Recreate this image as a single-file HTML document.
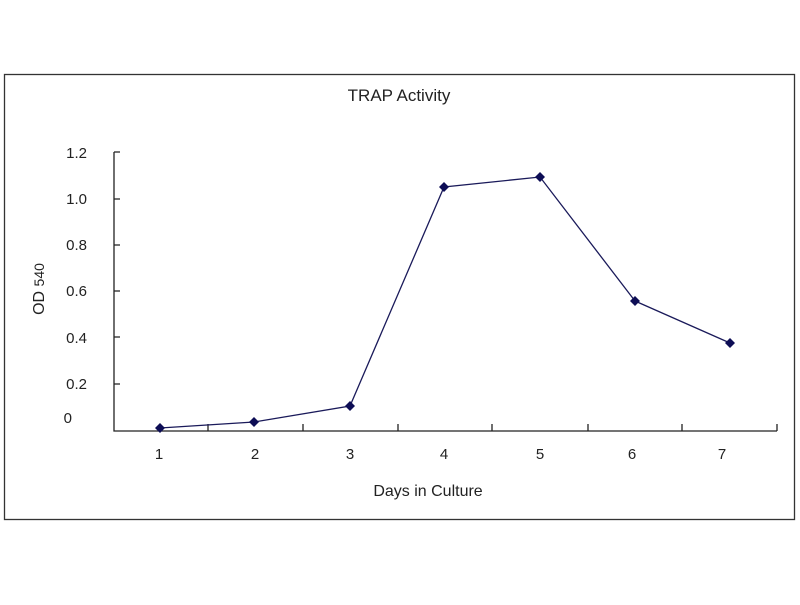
<!DOCTYPE html>
<html><head><style>body{margin:0;background:#fff}</style></head><body>
<svg width="800" height="600" xmlns="http://www.w3.org/2000/svg" font-family="Liberation Sans, sans-serif" fill="#222">
<rect x="4.5" y="74.5" width="790" height="445" fill="none" stroke="#333" stroke-width="1.3"/>
<text x="399" y="101" font-size="17" text-anchor="middle">TRAP Activity</text>
<g stroke="#222" stroke-width="1.3" fill="none">
<path d="M114 152V431H777"/>
<path d="M114 152h6M114 199h6M114 245h6M114 291h6M114 337h6M114 384h6"/>
<path d="M208 431v-7M303 431v-7M398 431v-7M492 431v-7M588 431v-7M682 431v-7M777 431v-7"/>
</g>
<g font-size="15" text-anchor="end">
<text x="87" y="158">1.2</text><text x="87" y="204">1.0</text><text x="87" y="250">0.8</text>
<text x="87" y="296">0.6</text><text x="87" y="343">0.4</text><text x="87" y="389">0.2</text><text x="72" y="423">0</text>
</g>
<g font-size="15" text-anchor="middle">
<text x="159" y="459">1</text><text x="255" y="459">2</text><text x="350" y="459">3</text><text x="444" y="459">4</text>
<text x="540" y="459">5</text><text x="632" y="459">6</text><text x="722" y="459">7</text>
</g>
<text x="428" y="496" font-size="16" text-anchor="middle">Days in Culture</text>
<text transform="translate(44,289) rotate(-90)" font-size="16" text-anchor="middle">OD <tspan font-size="14">540</tspan></text>
<polyline points="160,428 254,422 350,406 444,187 540,177 635,301 730,343" fill="none" stroke="#1a1a5a" stroke-width="1.3"/>
<g fill="#0d0d55">
<path d="M160 423l5 5-5 5-5-5z"/><path d="M254 417l5 5-5 5-5-5z"/><path d="M350 401l5 5-5 5-5-5z"/>
<path d="M444 182l5 5-5 5-5-5z"/><path d="M540 172l5 5-5 5-5-5z"/><path d="M635 296l5 5-5 5-5-5z"/><path d="M730 338l5 5-5 5-5-5z"/>
</g>
</svg>
</body></html>
